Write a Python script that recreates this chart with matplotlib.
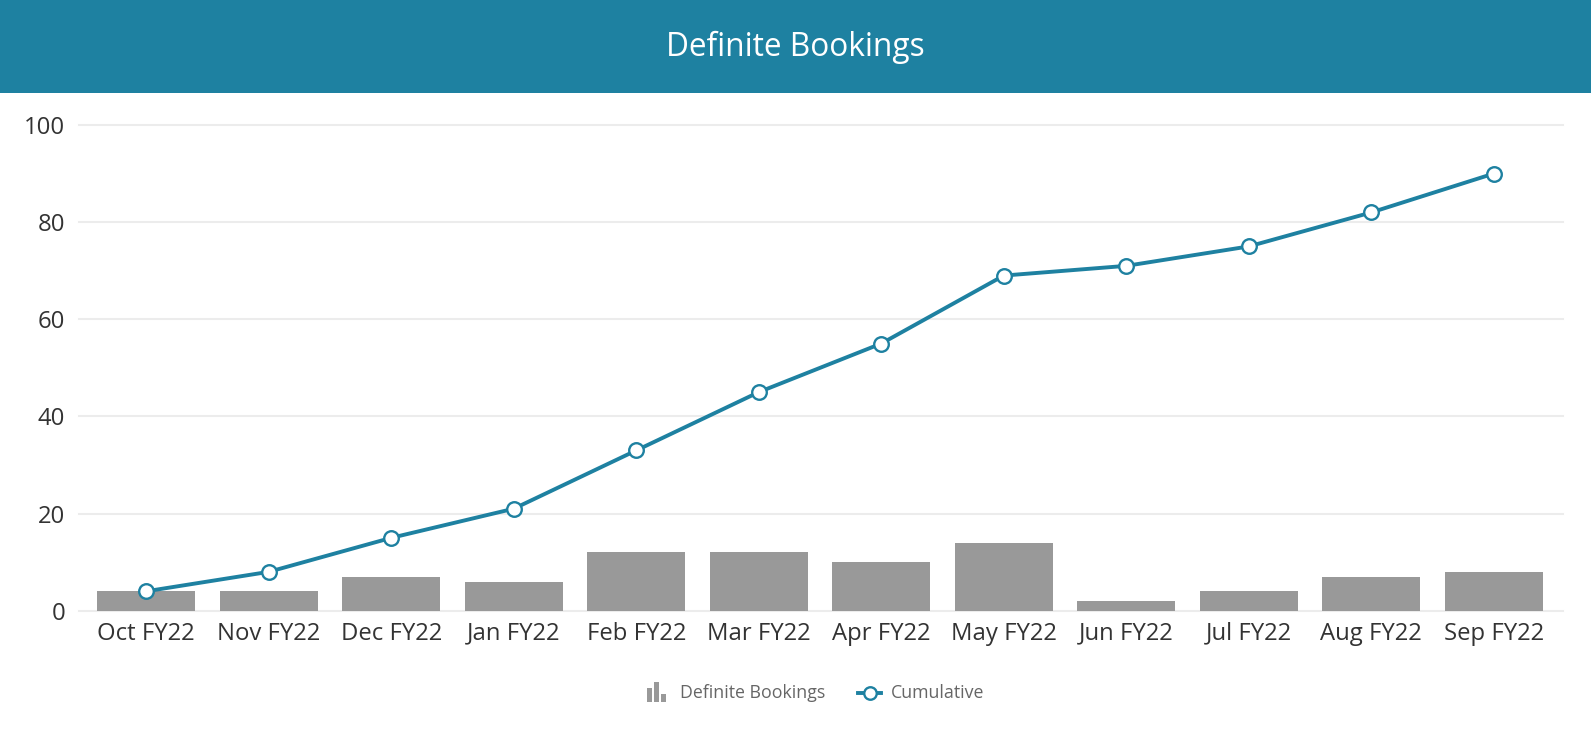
import matplotlib
matplotlib.use("Agg")
import matplotlib.pyplot as plt
from matplotlib.patches import Rectangle
from matplotlib.lines import Line2D

plt.rcParams['font.family'] = ['Open Sans', 'DejaVu Sans']

months = ["Oct FY22", "Nov FY22", "Dec FY22", "Jan FY22", "Feb FY22", "Mar FY22",
          "Apr FY22", "May FY22", "Jun FY22", "Jul FY22", "Aug FY22", "Sep FY22"]
bookings = [4, 4, 7, 6, 12, 12, 10, 14, 2, 4, 7, 8]
cumulative = [4, 8, 15, 21, 33, 45, 55, 69, 71, 75, 82, 90]
yticks = [0, 20, 40, 60, 80, 100]

TEAL = "#1e81a1"
GRAY = "#999999"
W, H = 1591, 744

fig = plt.figure(figsize=(W / 100, H / 100), dpi=100)

# header band
fig.patches.append(Rectangle((0, 1 - 93 / H), 1, 93 / H, transform=fig.transFigure,
                             facecolor=TEAL, edgecolor="none", zorder=0))
fig.text(0.5, 1 - 47 / H, "Definite Bookings", ha="center", va="center",
         color="white", fontsize=22.8)

ax = fig.add_axes([79 / W, 1 - 610.7 / H, (1563 - 79) / W, (610.7 - 125) / H])
x = list(range(len(months)))
ax.bar(x, bookings, width=0.8, color=GRAY, zorder=2)
ax.plot(x, cumulative, color=TEAL, lw=2.8, marker="o", ms=10.5, mfc="white",
        mec=TEAL, mew=1.7, zorder=3, clip_on=False)

ax.set_xlim(-0.549, 11.565)
ax.set_ylim(0, 100)
ax.set_yticks(yticks)
ax.set_xticks(x)
ax.set_xticklabels(months)
for s in ax.spines.values():
    s.set_visible(False)
ax.grid(axis="y", color="#ececec", lw=1.5, zorder=0)
ax.set_axisbelow(True)
ax.tick_params(axis="both", length=0, labelsize=17.2, colors="#333333")
ax.tick_params(axis="y", pad=10)
ax.tick_params(axis="x", pad=8)
for gl in ax.get_ygridlines():
    gl.set_clip_on(False)

# legend
ly = 1 - 693 / H
def fx(px):
    return px / W
def fy(py):
    return 1 - py / H
for (x0, h) in [(647, 14), (654, 20), (661, 8)]:
    fig.patches.append(Rectangle((fx(x0), fy(702)), 5 / W, h / H, transform=fig.transFigure,
                                 facecolor=GRAY, edgecolor="none"))
fig.text(fx(680), ly, "Definite Bookings", ha="left", va="center", color="#666666", fontsize=12.8)
fig.lines.append(Line2D([fx(858), fx(881)], [ly, ly], transform=fig.transFigure,
                        color=TEAL, lw=2.8))
fig.lines.append(Line2D([fx(869.5)], [ly], transform=fig.transFigure, marker="o",
                        ms=9, mfc="white", mec=TEAL, mew=1.7, color=TEAL))
fig.text(fx(891), ly, "Cumulative", ha="left", va="center", color="#666666", fontsize=12.8)

fig.savefig("out.png", dpi=100, facecolor="white")
